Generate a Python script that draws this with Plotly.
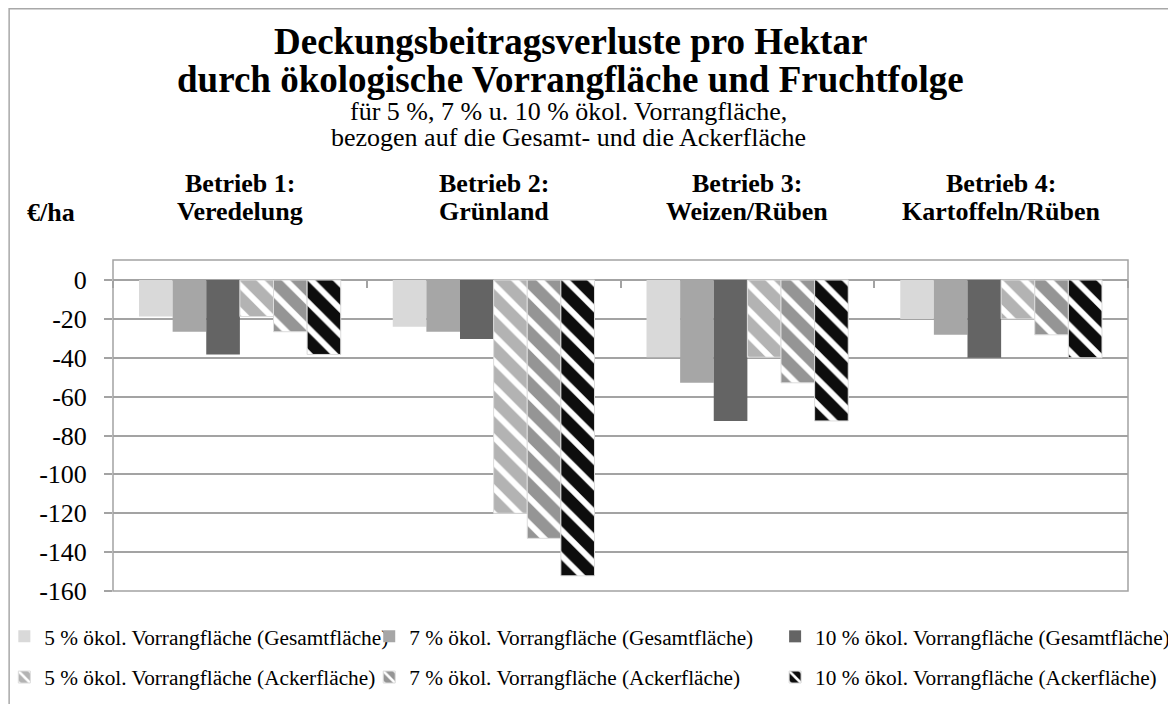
import plotly.graph_objects as go

# ---------------- data ----------------
categories = ["Betrieb 1:<br>Veredelung", "Betrieb 2:<br>Grünland",
              "Betrieb 3:<br>Weizen/Rüben", "Betrieb 4:<br>Kartoffeln/Rüben"]

series_names = [
    "5 % ökol. Vorrangfläche (Gesamtfläche)",
    "7 % ökol. Vorrangfläche (Gesamtfläche)",
    "10 % ökol. Vorrangfläche (Gesamtfläche)",
    "5 % ökol. Vorrangfläche (Ackerfläche)",
    "7 % ökol. Vorrangfläche (Ackerfläche)",
    "10 % ökol. Vorrangfläche (Ackerfläche)",
]

gesamt_5 = [-18.8, -24.0, -39.7, -20.0]
gesamt_7 = [-26.6, -26.6, -52.9, -28.2]
gesamt_10 = [-38.3, -30.3, -72.5, -40.0]
acker_5 = [-18.8, -120.0, -39.7, -20.0]
acker_7 = [-26.6, -132.9, -52.9, -28.2]
acker_10 = [-38.3, -152.2, -72.5, -40.0]

series_values = [gesamt_5, gesamt_7, gesamt_10, acker_5, acker_7, acker_10]

y_ticks = [0, -20, -40, -60, -80, -100, -120, -140, -160]

title_lines = ["Deckungsbeitragsverluste pro Hektar",
               "durch ökologische Vorrangfläche und Fruchtfolge"]
subtitle_lines = ["für 5 %, 7 % u. 10 % ökol. Vorrangfläche,",
                  "bezogen auf die Gesamt- und die Ackerfläche"]
unit_label = "€/ha"

# ---------------- styling ----------------
colors = ["#d9d9d9", "#a6a6a6", "#646464", "#b3b3b3", "#959595", "#0d0d0d"]
hatched = [False, False, False, True, True, True]
legend_ids = ["legend", "legend2", "legend3", "legend", "legend2", "legend3"]

FONT = "Liberation Serif"
GRID = "#a3a3a3"

OFF = 8  # page body margin
W, H = 1168, 696
ML, MR, MT, MB = 104.7, 48, 252, 113
PW, PH = W - ML - MR, H - MT - MB
Y_MIN, Y_MAX = -160, 10.3


def px_x(px):
    # page pixel -> paper x
    return (px - OFF - ML) / PW


def px_y(py):
    # page pixel -> paper y
    return (H - MB - (py - OFF)) / PH


fig = go.Figure()
for i, (name, vals) in enumerate(zip(series_names, series_values)):
    marker = dict(color=colors[i])
    if hatched[i]:
        marker["pattern"] = dict(shape="\\", bgcolor=colors[i], fgcolor="#ffffff",
                                 size=18, solidity=0.33, fillmode="replace")
        marker["line"] = dict(color="#dcdcdc", width=1)
    else:
        marker["line"] = dict(width=0)
    fig.add_trace(go.Bar(x=categories, y=vals, name=name, marker=marker,
                         legend=legend_ids[i], legendgroup=name))

fig.update_layout(
    width=W, height=H,
    margin=dict(l=ML, r=MR, t=MT, b=MB, autoexpand=False),
    paper_bgcolor="white", plot_bgcolor="white",
    barmode="group", bargap=0.205, bargroupgap=0,
    font=dict(family=FONT, color="black", size=21),
    showlegend=True,
)

zero_pos = (0 - Y_MIN) / (Y_MAX - Y_MIN)
fig.update_xaxes(type="category", categoryorder="array", categoryarray=categories,
                 range=[-0.5, len(categories) - 0.5],
                 anchor="free", position=zero_pos,
                 showticklabels=False, ticks="outside", tickson="boundaries",
                 ticklen=7, tickwidth=1.5, tickcolor=GRID,
                 showgrid=False, showline=False, zeroline=False)
fig.update_yaxes(range=[Y_MIN, Y_MAX], tickvals=y_ticks,
                 ticktext=[str(v) for v in y_ticks],
                 showgrid=True, gridcolor=GRID, gridwidth=1.5,
                 zeroline=False, showline=False,
                 ticks="outside", ticklen=8, tickwidth=1.5, tickcolor=GRID,
                 tickfont=dict(family=FONT, size=26, color="black"),
                 ticklabelstandoff=12)

# plot frame & outer chart border
fig.add_shape(type="rect", xref="paper", yref="paper", x0=0, x1=1, y0=0, y1=1,
              line=dict(color=GRID, width=1.5), layer="below")
fig.add_shape(type="rect", xref="paper", yref="paper",
              x0=px_x(8.8), x1=px_x(1220), y0=px_y(760), y1=px_y(8.8),
              line=dict(color="#a8a8a8", width=1.5), layer="below")

ann = []
title_y = [42, 79]
for t, yy in zip(title_lines, title_y):
    ann.append(dict(text="<b>" + t + "</b>", x=px_x(570), y=px_y(yy),
                    xref="paper", yref="paper", showarrow=False,
                    xanchor="center", yanchor="middle",
                    font=dict(family=FONT, size=37, color="black")))
sub_y = [112, 137]
for t, yy in zip(subtitle_lines, sub_y):
    ann.append(dict(text=t, x=px_x(568), y=px_y(yy),
                    xref="paper", yref="paper", showarrow=False,
                    xanchor="center", yanchor="middle",
                    font=dict(family=FONT, size=26, color="black")))
cat_y = [183, 211]
for c in categories:
    for line, yy in zip(c.split("<br>"), cat_y):
        ann.append(dict(text="<b>" + line + "</b>", x=c, y=px_y(yy),
                        xref="x", yref="paper", showarrow=False,
                        xanchor="center", yanchor="middle",
                        font=dict(family=FONT, size=26, color="black")))
ann.append(dict(text="<b>" + unit_label + "</b>", x=px_x(51), y=px_y(212),
                xref="paper", yref="paper", showarrow=False,
                xanchor="center", yanchor="middle",
                font=dict(family=FONT, size=26, color="black")))
fig.update_layout(annotations=ann)

leg_common = dict(orientation="v", yanchor="top", xanchor="left",
                  bgcolor="rgba(0,0,0,0)", tracegroupgap=10,
                  font=dict(family=FONT, size=21.3, color="black"))
fig.update_layout(
    legend=dict(x=px_x(4), y=px_y(616), **leg_common),
    legend2=dict(x=px_x(369), y=px_y(616), **leg_common),
    legend3=dict(x=px_x(775), y=px_y(616), **leg_common),
)

fig.write_html("out.html")
